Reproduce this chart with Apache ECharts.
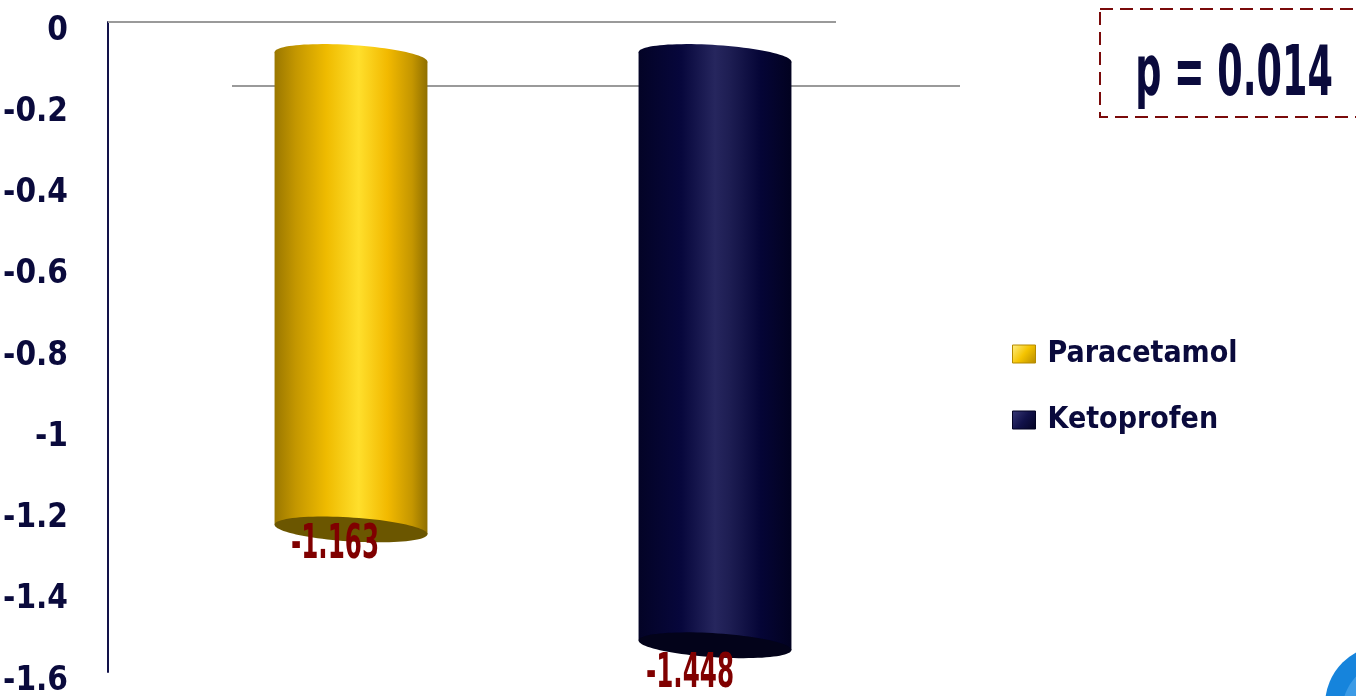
<!DOCTYPE html>
<html>
<head>
<meta charset="utf-8">
<script src="https://cdn.jsdelivr.net/npm/echarts@6/dist/echarts.min.js"></script>
<style>
  html, body { margin: 0; padding: 0; background: #ffffff; }
  #chart { width: 1356px; height: 696px; }
</style>
</head>
<body>
<div id="chart"></div>
<script>
// Mean change per treatment group
const categories = ['Paracetamol', 'Ketoprofen'];
const meanChange = [-1.163, -1.448];
const axisMin = -1.6;
const axisMax = 0;
const axisStep = 0.2;
const pValueText = 'p = 0.014';

const FONT = "'DejaVu Sans Condensed', 'Liberation Sans Narrow', 'Liberation Sans', sans-serif";
const NAVY = '#0a0a3c';
const LABEL_RED = '#800000';

// Cylinder look: perspective offset, tilt of the elliptic caps, label nudges
const DEPTH = [61, 35];
const FLOOR_DEPTH = [124, 64];
const TILT = 4.75;
const CAP_RY = 12;
const LABEL_SHIFT = [[-16, 16], [-25, 29]];

const palettes = [
  {
    side: [
      [0, '#9a7700'], [0.14, '#c49700'], [0.34, '#efbb00'], [0.55, '#ffdf2c'],
      [0.74, '#f2b900'], [0.9, '#c49600'], [1, '#8f6f00']
    ],
    bottom: '#6b5600',
    legend: ['#fff08a', '#f5c400', '#b58a00'],
    solid: '#f0bd00'
  },
  {
    side: [
      [0, '#030326'], [0.28, '#07073c'], [0.5, '#26265e'], [0.6, '#1d1d52'],
      [0.8, '#050536'], [1, '#020220']
    ],
    bottom: '#03031a',
    legend: ['#3a3a78', '#12124a', '#030322'],
    solid: '#0c0c45'
  }
];

function grad(stops) {
  return new echarts.graphic.LinearGradient(0, 0, 1, 0,
    stops.map(s => ({ offset: s[0], color: s[1] })));
}

function ellipsePoints(cx, cy, rx, ry, shear) {
  const pts = [];
  const n = 90;
  for (let i = 0; i < n; i++) {
    const t = (Math.PI * 2 * i) / n;
    pts.push([cx + rx * Math.cos(t), cy + ry * Math.sin(t) + shear * Math.cos(t)]);
  }
  return pts;
}

function cylinderItem(seriesIdx) {
  return function (params, api) {
    const cat = api.value(0);
    const val = api.value(1);
    const top = api.coord([cat, 0]);
    const bot = api.coord([cat, val]);
    const rx = api.size([1, 0])[0] * 0.21;
    const cx = top[0] + DEPTH[0];
    const cyTop = top[1] + DEPTH[1];
    const cyBot = bot[1] + DEPTH[1];
    const pal = palettes[seriesIdx];
    const shift = LABEL_SHIFT[seriesIdx];
    return {
      type: 'group',
      children: [
        {
          type: 'polygon',
          shape: { points: [
            [cx - rx, cyTop - TILT], [cx + rx, cyTop + TILT],
            [cx + rx, cyBot + TILT], [cx - rx, cyBot - TILT]
          ] },
          style: { fill: grad(pal.side) }
        },
        {
          type: 'polygon',
          shape: { points: ellipsePoints(cx, cyBot, rx, CAP_RY, TILT) },
          style: { fill: pal.bottom }
        },
        {
          type: 'polygon',
          shape: { points: ellipsePoints(cx, cyTop, rx, CAP_RY, TILT) },
          style: { fill: grad(pal.side) }
        },
        {
          type: 'text',
          x: cx + shift[0],
          y: cyBot + shift[1],
          scaleX: 0.74,
          scaleY: 1.3,
          style: {
            text: String(val),
            font: 'bold 37px ' + FONT,
            fill: LABEL_RED,
            align: 'center',
            verticalAlign: 'middle'
          }
        }
      ]
    };
  };
}

function legendIcon(c) {
  return new echarts.graphic.LinearGradient(0, 0, 1, 1, [
    { offset: 0, color: c[0] }, { offset: 0.5, color: c[1] }, { offset: 1, color: c[2] }
  ]);
}

const chart = echarts.init(document.getElementById('chart'), null, { renderer: 'canvas' });

const floorSeries = {
  type: 'custom',
  name: 'floor',
  silent: true,
  data: [[0]],
  renderItem: function (params, api) {
    const cs = params.coordSys;
    const y0 = api.coord([0, 0])[1];
    const lineStyle = { stroke: '#9a9a9a', lineWidth: 2 };
    return {
      type: 'group',
      children: [
        { type: 'line', shape: { x1: cs.x, y1: y0, x2: cs.x + cs.width, y2: y0 }, style: lineStyle },
        { type: 'line', shape: {
            x1: cs.x + FLOOR_DEPTH[0], y1: y0 + FLOOR_DEPTH[1],
            x2: cs.x + cs.width + FLOOR_DEPTH[0], y2: y0 + FLOOR_DEPTH[1] }, style: lineStyle }
      ]
    };
  }
};

const cylinderSeries = categories.map((name, i) => ({
  type: 'custom',
  name: name,
  data: [[i, meanChange[i]]],
  itemStyle: { color: palettes[i].solid },
  renderItem: cylinderItem(i),
  clip: false
}));

chart.setOption({
  animation: false,
  backgroundColor: '#ffffff',
  grid: { left: 108, top: 22, width: 728, height: 650, outerBoundsMode: 'none', containLabel: false },
  xAxis: {
    type: 'category',
    data: categories,
    show: false
  },
  yAxis: {
    type: 'value',
    min: axisMin,
    max: axisMax,
    interval: axisStep,
    axisLine: { show: true, lineStyle: { color: '#12124a', width: 2 } },
    axisTick: { show: false },
    splitLine: { show: false },
    axisLabel: {
      margin: 40,
      verticalAlign: 'top',
      lineHeight: 18,
      color: NAVY,
      fontFamily: FONT,
      fontWeight: 'bold',
      fontSize: 33,
      formatter: v => String(Number(v.toFixed(1)))
    }
  },
  legend: {
    orient: 'vertical',
    left: 1012,
    top: 336,
    padding: 0,
    icon: 'rect',
    itemWidth: 23,
    itemHeight: 18,
    itemGap: 30,
    selectedMode: false,
    textStyle: {
      fontFamily: FONT,
      fontWeight: 'bold',
      fontSize: 30,
      lineHeight: 36,
      color: NAVY,
      padding: [0, 0, 0, 7]
    },
    data: categories.map((name, i) => ({
      name: name,
      itemStyle: { color: legendIcon(palettes[i].legend), borderColor: palettes[i].legend[2], borderWidth: 1 }
    }))
  },
  graphic: [
    {
      type: 'rect',
      shape: { x: 1100, y: 9, width: 280, height: 108 },
      style: { fill: '#ffffff', stroke: '#7a0a0a', lineWidth: 2, lineDash: [13, 7] }
    },
    {
      type: 'text',
      x: 1234,
      y: 77,
      scaleX: 0.7,
      scaleY: 1.2,
      style: {
        text: pValueText,
        font: 'bold 58px ' + FONT,
        fill: NAVY,
        align: 'center',
        verticalAlign: 'middle',
        textAlign: 'center',
        textVerticalAlign: 'middle'
      }
    },
    {
      type: 'circle',
      shape: { cx: 1385, cy: 705, r: 60 },
      style: { fill: '#1684dc' }
    },
    {
      type: 'circle',
      shape: { cx: 1394, cy: 712, r: 52 },
      style: { fill: '#3c9be6' }
    }
  ],
  series: [floorSeries].concat(cylinderSeries)
});
</script>
</body>
</html>
